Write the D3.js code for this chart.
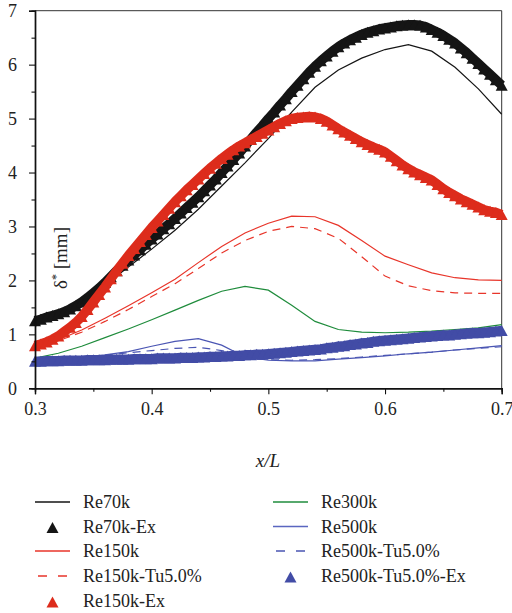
<!DOCTYPE html>
<html>
<head>
<meta charset="utf-8">
<script src="https://cdn.jsdelivr.net/npm/d3@7/dist/d3.min.js"></script>
<style>
html,body{margin:0;padding:0;background:#fff;}
svg{display:block;}
svg text{font-family:"Liberation Serif","Tinos","Times New Roman","DejaVu Serif",serif !important;fill:#222;}
</style>
</head>
<body>
<svg id="chart" width="512" height="613"></svg>
<script>
// ---- simulation grid (x/L) ----
const xSim = [0.30,0.32,0.34,0.36,0.38,0.40,0.42,0.44,0.46,0.48,0.50,0.52,0.54,0.56,0.58,0.60,0.62,0.64,0.66,0.68,0.70];
const re70k      = [1.15,1.36,1.62,1.92,2.25,2.58,2.93,3.32,3.75,4.18,4.63,5.12,5.58,5.90,6.12,6.28,6.37,6.25,5.95,5.55,5.08];
const re150k     = [0.78,0.90,1.08,1.30,1.53,1.77,2.02,2.33,2.63,2.88,3.06,3.19,3.18,3.02,2.74,2.45,2.29,2.14,2.05,2.01,2.00];
const re150kTu   = [0.76,0.88,1.04,1.24,1.46,1.70,1.94,2.22,2.51,2.74,2.91,3.00,2.96,2.78,2.44,2.08,1.90,1.81,1.77,1.76,1.76];
const re300k     = [0.56,0.65,0.78,0.94,1.10,1.27,1.45,1.63,1.80,1.89,1.82,1.54,1.24,1.09,1.04,1.03,1.04,1.06,1.09,1.12,1.18];
const re500k     = [0.50,0.55,0.58,0.62,0.68,0.78,0.87,0.92,0.80,0.58,0.52,0.51,0.51,0.54,0.57,0.60,0.64,0.67,0.71,0.75,0.79];
const re500kTu   = [0.50,0.54,0.57,0.61,0.66,0.70,0.74,0.76,0.70,0.58,0.53,0.52,0.53,0.55,0.58,0.61,0.64,0.67,0.71,0.74,0.77];

// ---- experimental grid (x/L) ----
const xEx = [0.300,0.305,0.310,0.315,0.320,0.325,0.330,0.335,0.340,0.345,0.350,0.355,0.360,0.365,0.370,0.375,0.380,0.385,0.390,0.395,
             0.400,0.405,0.410,0.415,0.420,0.425,0.430,0.435,0.440,0.445,0.450,0.455,0.460,0.465,0.470,0.475,0.480,0.485,0.490,0.495,
             0.500,0.505,0.510,0.515,0.520,0.525,0.530,0.535,0.540,0.545,0.550,0.555,0.560,0.565,0.570,0.575,0.580,0.585,0.590,0.595,
             0.600,0.605,0.610,0.615,0.620,0.625,0.630,0.635,0.640,0.645,0.650,0.655,0.660,0.665,0.670,0.675,0.680,0.685,0.690,0.695,0.700];
const re70kEx = [1.25,1.28,1.32,1.35,1.38,1.42,1.47,1.53,1.60,1.68,1.77,1.86,1.96,2.07,2.18,2.28,2.38,2.47,2.57,2.67,
                 2.77,2.86,2.96,3.05,3.15,3.25,3.35,3.45,3.55,3.66,3.77,3.88,4.00,4.12,4.24,4.36,4.49,4.62,4.75,4.87,
                 5.00,5.12,5.25,5.37,5.50,5.62,5.74,5.86,5.97,6.07,6.16,6.25,6.33,6.40,6.46,6.51,6.56,6.60,6.63,6.66,
                 6.68,6.70,6.72,6.73,6.74,6.74,6.73,6.70,6.65,6.60,6.54,6.47,6.40,6.31,6.22,6.12,6.02,5.92,5.82,5.72,5.62];
const re150kEx = [0.79,0.82,0.86,0.91,0.97,1.05,1.13,1.22,1.33,1.46,1.60,1.74,1.88,2.03,2.18,2.32,2.46,2.59,2.72,2.85,
                  2.98,3.10,3.22,3.34,3.46,3.57,3.68,3.78,3.88,3.98,4.08,4.17,4.26,4.34,4.42,4.49,4.55,4.61,4.67,4.73,
                  4.79,4.85,4.91,4.96,5.00,5.02,5.03,5.04,5.03,5.00,4.95,4.88,4.81,4.75,4.69,4.63,4.57,4.52,4.47,4.43,
                  4.38,4.30,4.22,4.14,4.07,4.01,3.96,3.91,3.86,3.78,3.70,3.63,3.57,3.51,3.46,3.41,3.36,3.31,3.28,3.26,3.22];
const re500kTuEx = [0.50,0.50,0.51,0.51,0.51,0.52,0.52,0.52,0.52,0.53,0.53,0.53,0.53,0.54,0.54,0.54,0.54,0.55,0.55,0.55,
                    0.55,0.56,0.56,0.56,0.56,0.57,0.57,0.57,0.58,0.58,0.59,0.59,0.60,0.60,0.61,0.61,0.62,0.62,0.63,0.63,
                    0.64,0.65,0.66,0.67,0.68,0.69,0.70,0.71,0.72,0.73,0.75,0.76,0.78,0.79,0.81,0.82,0.84,0.85,0.87,0.88,
                    0.89,0.90,0.91,0.92,0.93,0.94,0.95,0.96,0.97,0.98,0.99,0.99,1.00,1.01,1.02,1.03,1.03,1.04,1.05,1.06,1.07];

// ---- ticks ----
const xTicks = [0.3,0.4,0.5,0.6,0.7];
const xMinor = [0.35,0.45,0.55,0.65];
const yTicks = [0,1,2,3,4,5,6,7];
const yMinor = [0.5,1.5,2.5,3.5,4.5,5.5,6.5];

const colBlack = "#151515", colRed = "#e8352a", colRedEx = "#dd2c1c",
      colGreen = "#1f8c3c", colBlue = "#4a55b3", colBlueEx = "#424ca6";
const FONT = "'Liberation Serif','Tinos','Times New Roman','DejaVu Serif',serif";

const svg = d3.select("#chart");
const x = d3.scaleLinear().domain([0.3,0.7]).range([35,501.7]);
const y = d3.scaleLinear().domain([0,7]).range([388.3,10.7]);

// frame (top, right)
svg.append("line").attr("x1",x(0.3)).attr("x2",x(0.7)).attr("y1",y(7)).attr("y2",y(7)).attr("stroke","#333").attr("stroke-width",1);
svg.append("line").attr("x1",x(0.7)).attr("x2",x(0.7)).attr("y1",y(7)).attr("y2",y(0)).attr("stroke","#333").attr("stroke-width",1);

// lines
const line = d3.line().x((d,i)=>x(xSim[i])).y(d=>y(d));
const sims = [
  {v:re70k, c:colBlack, dash:null},
  {v:re150k, c:colRed, dash:null},
  {v:re150kTu, c:colRed, dash:"8,6"},
  {v:re300k, c:colGreen, dash:null},
  {v:re500k, c:colBlue, dash:null},
  {v:re500kTu, c:colBlue, dash:"8,6"}
];
sims.forEach(s=>{
  svg.append("path").datum(s.v).attr("d",line).attr("fill","none")
    .attr("stroke",s.c).attr("stroke-width",1.2).attr("stroke-dasharray",s.dash);
});

// experimental triangles (dense markers forming a band)
function tri(w,h){return `M0,${-h/2}L${w/2},${h/2}L${-w/2},${h/2}Z`;}
const lineEx = d3.line().x((d,i)=>x(xEx[i])).y(d=>y(d));
const exps = [
  {v:re70kEx, c:colBlack},
  {v:re150kEx, c:colRedEx},
  {v:re500kTuEx, c:colBlueEx}
];
exps.forEach(s=>{
  svg.append("path").datum(s.v).attr("d",lineEx).attr("fill","none")
    .attr("stroke",s.c).attr("stroke-width",9.5).attr("stroke-linejoin","round");
  svg.append("g").selectAll("path").data(s.v).join("path")
    .attr("d",tri(12,11))
    .attr("transform",(d,i)=>`translate(${x(xEx[i])},${y(d)})`)
    .attr("fill",s.c);
});

// axes
const gx = svg.append("g").attr("transform",`translate(0,${y(0)})`)
  .call(d3.axisBottom(x).tickValues(xTicks).tickFormat(d3.format(".1f")).tickSize(6).tickPadding(4));
const gxm = svg.append("g").attr("transform",`translate(0,${y(0)})`)
  .call(d3.axisBottom(x).tickValues(xMinor).tickFormat("").tickSize(3.5));
const gy = svg.append("g").attr("transform",`translate(${x(0.3)},0)`)
  .call(d3.axisLeft(y).tickValues(yTicks).tickFormat(d3.format("d")).tickSize(6).tickPadding(12));
const gym = svg.append("g").attr("transform",`translate(${x(0.3)},0)`)
  .call(d3.axisLeft(y).tickValues(yMinor).tickFormat("").tickSize(3.5));
[gx,gxm,gy,gym].forEach(g=>{
  g.attr("font-family",FONT);
  g.selectAll(".domain").attr("stroke","#111").attr("stroke-width",1.4);
  g.selectAll(".tick line").attr("stroke","#111").attr("stroke-width",1.1);
  g.selectAll("text").attr("font-family",FONT).attr("font-size",18).attr("fill","#222");
});
gx.selectAll("text").attr("dy","0.95em");

// axis titles
svg.append("text").attr("x",268).attr("y",467).attr("text-anchor","middle")
  .attr("font-family",FONT).attr("font-size",19).attr("font-style","italic").text("x/L");
const yl = svg.append("text").attr("transform","translate(67,258) rotate(-90)")
  .attr("text-anchor","middle").attr("font-family",FONT).attr("font-size",19);
yl.append("tspan").text("δ");
yl.append("tspan").attr("baseline-shift","super").attr("font-size",12).text("*");
yl.append("tspan").text(" [mm]");

// legend
const legendNames = ["Re70k","Re70k-Ex","Re150k","Re150k-Tu5.0%","Re150k-Ex","Re300k","Re500k","Re500k-Tu5.0%","Re500k-Tu5.0%-Ex"];
const legendTypes = ["line","tri","line","dash","tri","line","line","dash","tri"];
const legendColors = [colBlack,colBlack,colRed,colRed,colRedEx,colGreen,"#5a66c0",colBlue,colBlueEx];
const rowY = [502,526.5,551,576,601];
legendNames.forEach((name,i)=>{
  const col = i<5?0:1, row = i<5?i:i-5;
  const lx = col===0?35:273, tx = col===0?83:321, yy = rowY[row];
  const g = svg.append("g");
  if(legendTypes[i]==="line"){
    g.append("line").attr("x1",lx).attr("x2",lx+35).attr("y1",yy).attr("y2",yy)
      .attr("stroke",legendColors[i]).attr("stroke-width",1.3);
  } else if(legendTypes[i]==="dash"){
    g.append("line").attr("x1",lx+3).attr("x2",lx+33).attr("y1",yy).attr("y2",yy)
      .attr("stroke",legendColors[i]).attr("stroke-width",1.3).attr("stroke-dasharray","9,11");
  } else {
    g.append("path").attr("d",tri(12,11)).attr("transform",`translate(${lx+17.5},${yy+1})`).attr("fill",legendColors[i]);
  }
  g.append("text").attr("x",tx).attr("y",yy+6).attr("font-family",FONT).attr("font-size",18).text(name);
});
</script>
</body>
</html>
